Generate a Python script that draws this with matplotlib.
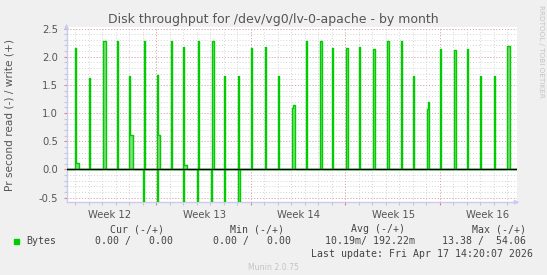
import matplotlib
matplotlib.use("Agg")
import matplotlib.pyplot as plt
from matplotlib.patches import Rectangle
import numpy as np

# --- data --------------------------------------------------------------
# write (+) events: start day and the consecutive 2-hour sample values
write_days = [0.65, 1.69, 2.72, 3.76, 4.65, 5.76, 6.68, 7.76, 8.65, 9.76, 10.77,
              11.68, 12.67, 13.68, 14.67, 15.68, 16.67, 17.73, 18.79, 19.67, 20.67,
              21.67, 22.66, 23.75, 24.78, 25.67, 26.66, 27.67, 28.66, 29.64, 30.63,
              31.64, 32.63]
write_levels = [
    [2.15, 0.11, 0.11], [1.63], [2.28, 2.28], [2.28], [1.65, 0.62, 0.62],
    [2.28], [1.67, 0.62, 0.62], [2.28], [2.17, 0.08, 0.08], [2.28], [2.28, 2.28],
    [1.65], [1.65], [2.15], [2.17], [1.65], [1.09, 1.14, 1.14], [2.28], [2.28],
    [2.15], [2.15, 2.15], [2.17], [2.13, 2.13], [2.28], [2.28], [1.65],
    [1.07, 1.20], [2.14], [2.12, 2.12], [2.13], [1.65], [1.65], [2.19, 2.19],
]
# read (-) events
read_days = [5.68, 6.68, 8.65, 9.68, 10.67, 11.68, 12.67]
read_levels = [[-0.58], [-0.58], [-0.58], [-0.58], [-0.57], [-0.57], [-0.58, -0.58]]

week_labels = ["Week 12", "Week 13", "Week 14", "Week 15", "Week 16"]
y_ticks = [-0.5, 0.0, 0.5, 1.0, 1.5, 2.0, 2.5]

legend_cols = ["Cur (-/+)", "Min (-/+)", "Avg (-/+)", "Max (-/+)"]
legend_vals = ["0.00 /   0.00", "0.00 /   0.00", "10.19m/ 192.22m", "13.38 /  54.06"]
last_update = "Last update: Fri Apr 17 14:20:07 2026"

SAMPLE = 1.0 / 12.0     # 2 hour consolidation step, in days
SPAN = 33.32            # days shown
FIRST_MONDAY = 6.63
GREEN = "#00cc00"


def build_path(days, levels):
    t, v = [0.0], [0.0]
    for d, lv in zip(days, levels):
        t.append(d)
        v.append(0.0)
        for i, val in enumerate(lv):
            t.append(d + i * SAMPLE)
            v.append(val)
        t.append(d + len(lv) * SAMPLE)
        v.append(0.0)
    t.append(SPAN)
    v.append(0.0)
    return np.array(t), np.array(v)


W, H = 547, 275
fig = plt.figure(figsize=(W / 100, H / 100), dpi=100, facecolor="#f0f0f0")


def fx(x):
    return x / W


def fy(y):
    return 1 - y / H


ax = fig.add_axes([fx(66.5), fy(202.2), (516.7 - 66.5) / W, (202.2 - 27.4) / H])
ax.set_facecolor("white")
ax.set_xlim(0, SPAN)
ax.set_ylim(-0.58, 2.52)

# grid
day_lines = np.arange(FIRST_MONDAY - 6, SPAN, 1.0)
week_lines = np.arange(FIRST_MONDAY, SPAN, 7.0)
minor_y = np.arange(-0.5, 2.51, 0.1)
dot = (0, (1, 2))
for yv in minor_y:
    ax.axhline(yv, color="#d4d4d4", lw=0.7, ls=dot, zorder=0)
for xv in day_lines:
    ax.axvline(xv, color="#d4d4d4", lw=0.7, ls=dot, zorder=0)
for yv in y_ticks:
    ax.axhline(yv, color="#e8a0a0", lw=0.7, ls=dot, zorder=0.5)
for xv in week_lines:
    ax.axvline(xv, color="#e8a0a0", lw=0.7, ls=dot, zorder=0.5)

# data
for days, levels in [(write_days, write_levels), (read_days, read_levels)]:
    t, v = build_path(days, levels)
    ax.fill_between(t, v, 0, step="post", color="#80e080", lw=0, zorder=2)
    ax.plot(t, v, drawstyle="steps-post", color=GREEN, lw=1.0, zorder=3)
ax.axhline(0, color="black", lw=1.0, zorder=4)

# axes styling
for s in ["top", "right"]:
    ax.spines[s].set_visible(False)
for s in ["left", "bottom"]:
    ax.spines[s].set_color("#c8ccf0")
    ax.spines[s].set_linewidth(1.0)
ax.annotate("", xy=(0, 1.035), xytext=(0, 0.99), xycoords="axes fraction",
            arrowprops=dict(arrowstyle="-|>", color="#c8ccf0", lw=1.0,
                            mutation_scale=6), annotation_clip=False)
ax.annotate("", xy=(1.012, 0), xytext=(0.99, 0), xycoords="axes fraction",
            arrowprops=dict(arrowstyle="-|>", color="#c8ccf0", lw=1.0,
                            mutation_scale=6), annotation_clip=False)

ax.set_yticks(y_ticks)
ax.set_yticklabels([f"{y:.1f}" for y in y_ticks])
ax.set_yticks(minor_y, minor=True)
ax.set_xticks(week_lines)
ax.set_xticklabels([])
ax.set_xticks(day_lines, minor=True)
ax.tick_params(axis="both", which="major", length=2, width=0.8, color="#e08080",
               labelsize=7.2, labelcolor="#555555", pad=4)
ax.tick_params(axis="both", which="minor", length=2, width=0.8, color="#c8c8c8")

for i, lab in enumerate(week_labels):
    ax.text(FIRST_MONDAY - 3.45 + 7 * i, -0.72, lab, ha="center", va="top",
            fontsize=7.2, color="#555555")

# titles
fig.text(fx(273.5), fy(19), "Disk throughput for /dev/vg0/lv-0-apache - by month",
         ha="center", va="center", fontsize=9.0, color="#555555")
fig.text(fx(10), fy(115), "Pr second read (-) / write (+)", rotation=90,
         ha="center", va="center", fontsize=7.6, color="#555555")
fig.text(fx(541), fy(5), "RRDTOOL / TOBI OETIKER", rotation=270,
         ha="center", va="top", fontsize=5.2, color="#c4c4c4")

# legend
mono = dict(family="DejaVu Sans Mono", fontsize=7.1, color="#444444")
col_right = [164, 284.3, 404.7, 526]
val_right = [173.4, 291.3, 415.1, 526]
for c, xr in zip(legend_cols, col_right):
    fig.text(fx(xr), fy(229.2), c, ha="right", va="center", **mono)
for s, xr in zip(legend_vals, val_right):
    fig.text(fx(xr), fy(241.4), s, ha="right", va="center", **mono)
fig.text(fx(26.2), fy(241.4), "Bytes", ha="left", va="center", **mono)
fig.patches.append(Rectangle((fx(14), fy(244.2)), fx(5.4), 5.4 / H,
                             transform=fig.transFigure, color=GREEN))
fig.text(fx(532.7), fy(254.3), last_update, ha="right", va="center", **mono)
fig.text(fx(273), fy(267.2), "Munin 2.0.75", ha="center", va="center",
         fontsize=5.6, color="#c4c4c4")

fig.savefig("out.png", dpi=100, facecolor=fig.get_facecolor())
